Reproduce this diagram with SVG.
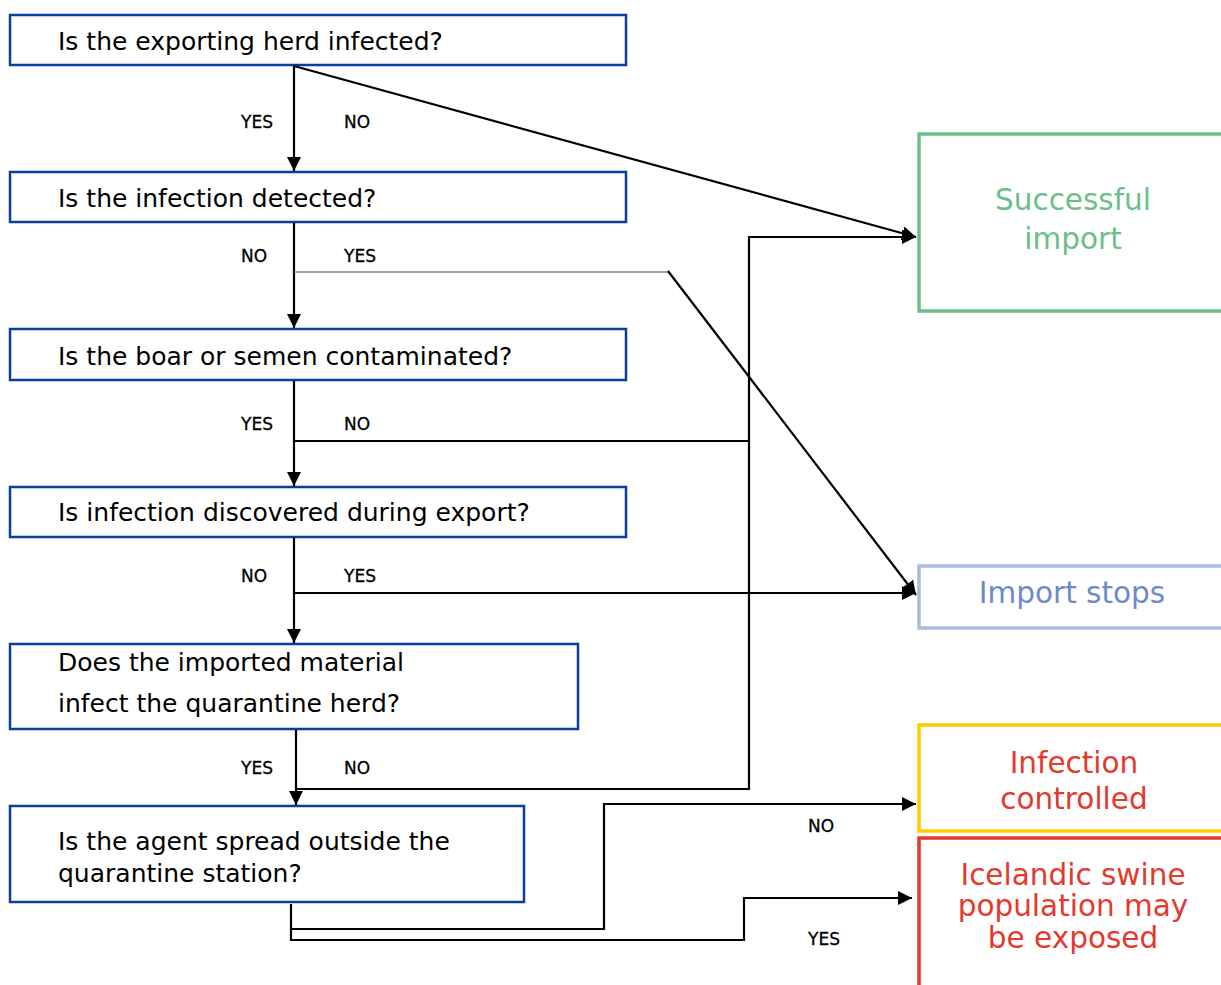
<svg xmlns="http://www.w3.org/2000/svg" width="1221" height="985" viewBox="0 0 1221 985">
<style>
.q{fill:#fff;stroke:#0b3d9b;stroke-width:2.5}
.qt{font-family:"DejaVu Sans",sans-serif;font-size:25px;fill:#000}
.lbl{font-family:"DejaVu Sans",sans-serif;font-size:17px;fill:#000;stroke:#000;stroke-width:0.3}
.ot{font-family:"DejaVu Sans",sans-serif;font-size:29.5px;text-anchor:middle}
.c{fill:none;stroke:#000;stroke-width:2.2}
</style>
<defs>
<marker id="ah" markerUnits="userSpaceOnUse" markerWidth="15" markerHeight="14" refX="14" refY="7" orient="auto">
<path d="M0,0 L14,7 L0,14 Z" fill="#000"/>
</marker>
</defs>
<rect width="1221" height="985" fill="#fff"/>
<g id="n1"><rect class="q" x="10" y="15" width="616" height="50"/><text class="qt" x="58" y="50">Is the exporting herd infected?</text></g>
<g id="n2"><rect class="q" x="10" y="172" width="616" height="50"/><text class="qt" x="58" y="207">Is the infection detected?</text></g>
<g id="n3"><rect class="q" x="10" y="329" width="616" height="51"/><text class="qt" x="58" y="365">Is the boar or semen contaminated?</text></g>
<g id="n4"><rect class="q" x="10" y="487" width="616" height="50"/><text class="qt" x="58" y="521">Is infection discovered during export?</text></g>
<g id="n5"><rect class="q" x="10" y="644" width="568" height="85"/><text class="qt" x="58" y="671">Does the imported material</text><text class="qt" x="58" y="712">infect the quarantine herd?</text></g>
<g id="n6"><rect class="q" x="10" y="806" width="514" height="96"/><text class="qt" x="58" y="850">Is the agent spread outside the</text><text class="qt" x="58" y="882">quarantine station?</text></g>
<g id="o1"><rect x="919" y="134" width="310" height="177" fill="#fff" stroke="#6cbf88" stroke-width="3.5"/><text class="ot" x="1073" y="210" fill="#6cbf88">Successful</text><text class="ot" x="1073" y="249" fill="#6cbf88">import</text></g>
<g id="o2"><rect x="919" y="566" width="310" height="62" fill="#fff" stroke="#a9bce0" stroke-width="3.5"/><text class="ot" x="1072" y="603" fill="#6d8bcb">Import stops</text></g>
<g id="o3"><rect x="919" y="725" width="310" height="106" fill="#fff" stroke="#ffcc00" stroke-width="3.5"/><text class="ot" x="1074" y="773" fill="#e5392e">Infection</text><text class="ot" x="1074" y="809" fill="#e5392e">controlled</text></g>
<g id="o4"><rect x="919" y="838" width="310" height="160" fill="#fff" stroke="#e5392e" stroke-width="3.5"/><text class="ot" x="1073" y="885" fill="#e5392e">Icelandic swine</text><text class="ot" x="1073" y="916" fill="#e5392e">population may</text><text class="ot" x="1073" y="948" fill="#e5392e">be exposed</text></g>
<g id="connectors">
<path class="c" d="M294,66 V171" marker-end="url(#ah)"/>
<path class="c" d="M294,66 L916,237" marker-end="url(#ah)"/>
<path class="c" d="M294,223 V328" marker-end="url(#ah)"/>
<path d="M294,272 H668" fill="none" stroke="#808080" stroke-width="1.5"/>
<path class="c" d="M668,271 L916,595" marker-end="url(#ah)"/>
<path class="c" d="M294,381 V486" marker-end="url(#ah)"/>
<path class="c" d="M294,441 H749"/>
<path class="c" d="M749,790 V237 H916" marker-end="url(#ah)"/>
<path class="c" d="M294,538 V643" marker-end="url(#ah)"/>
<path class="c" d="M294,593 H916" marker-end="url(#ah)"/>
<path class="c" d="M296,730 V805" marker-end="url(#ah)"/>
<path class="c" d="M296,789 H749"/>
<path class="c" d="M291,904 V940 H744 V898 H912" marker-end="url(#ah)"/>
<path class="c" d="M291,929 H604 V804 H916" marker-end="url(#ah)"/>
<text class="lbl" x="241" y="128">YES</text><text class="lbl" x="344" y="128">NO</text>
<text class="lbl" x="241" y="262">NO</text><text class="lbl" x="344" y="262">YES</text>
<text class="lbl" x="241" y="430">YES</text><text class="lbl" x="344" y="430">NO</text>
<text class="lbl" x="241" y="582">NO</text><text class="lbl" x="344" y="582">YES</text>
<text class="lbl" x="241" y="774">YES</text><text class="lbl" x="344" y="774">NO</text>
<text class="lbl" x="808" y="832">NO</text><text class="lbl" x="808" y="945">YES</text>
</g>
</svg>
